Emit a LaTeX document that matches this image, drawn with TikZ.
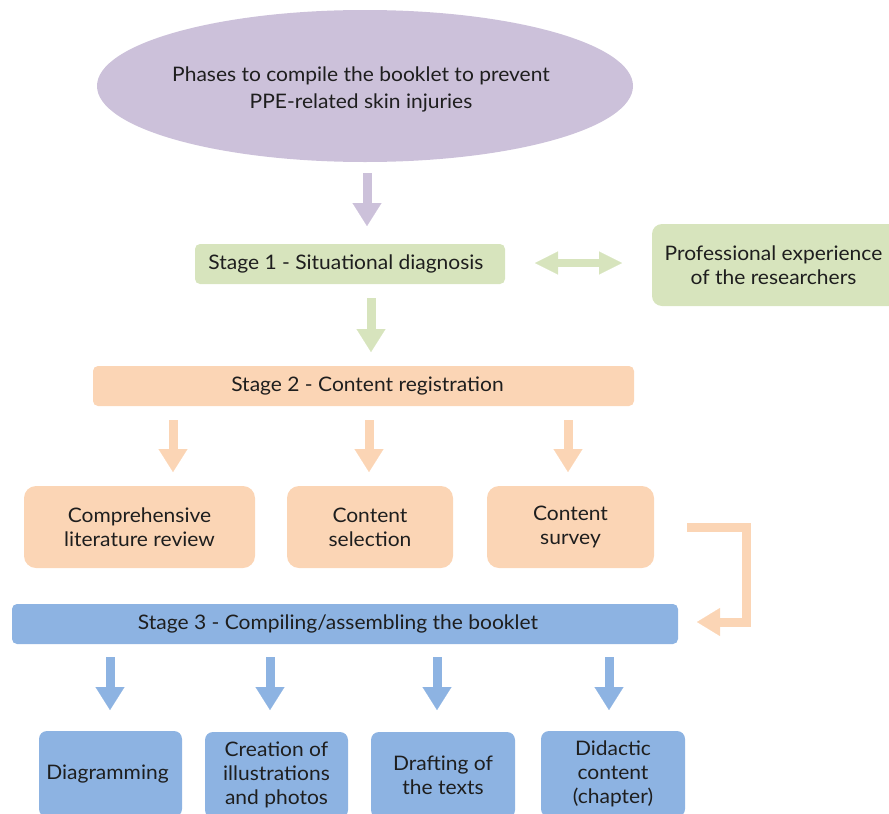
\documentclass[tikz,border=0pt]{standalone}
\usepackage{fontspec}
\setmainfont[FakeStretch=1.05]{Lato}
\usetikzlibrary{arrows.meta,shapes.geometric}
\definecolor{cpur}{HTML}{CCC1DA}
\definecolor{cgreen}{HTML}{D7E4BD}
\definecolor{corange}{HTML}{FBD5B5}
\definecolor{cblue}{HTML}{8DB3E2}
\definecolor{ink}{HTML}{1E1E1E}
\begin{document}
\begin{tikzpicture}[x=1pt,y=-1pt,
  txt/.style={font=\fontsize{20}{24}\selectfont, text=ink, align=center},
  box/.style={txt, inner sep=0pt, draw=none},
  flat/.style={box, rounded corners=5pt, minimum height=40pt},
  tall/.style={box, rounded corners=12pt, minimum height=82pt},
  arr/.style={line width=9pt, -{Triangle[line width=0.1pt, width=29pt, length=23pt]}},
  dbl/.style={line width=8pt, {Triangle[line width=0.1pt, width=23pt, length=23pt]}-{Triangle[line width=0.1pt, width=23pt, length=23pt]}}
]
\useasboundingbox (0,0) rectangle (889,814);
\clip (0,0) rectangle (889,814);

\node[ellipse, fill=cpur, minimum width=536pt, minimum height=152pt, inner sep=0pt] (ell) at (365,86) {};
\node[txt, font=\fontsize{20}{27}\selectfont, inner sep=0pt] (ellt) at (361,89) {Phases to compile the booklet to prevent\\PPE-related skin injuries};

\node[flat, fill=cgreen, minimum width=310pt] (s1) at (350,264) {};
\node[txt, inner sep=0pt] (s1t) at (346,264) {Stage 1 - Situational diagnosis};
\node[box, fill=cgreen, rounded corners=10pt, minimum width=250pt, minimum height=82pt] (prof) at (777,265) {};
\node[txt, inner sep=0pt] (proft) at (773.5,265) {Professional experience\\of the researchers};

\node[flat, fill=corange, minimum width=541pt] (s2) at (363.5,386) {};
\node[txt, inner sep=0pt] (s2t) at (367.5,386) {Stage 2 - Content registration};
\node[tall, fill=corange, minimum width=231pt] (c1) at (139.5,527) {Comprehensive\\literature review};
\node[tall, fill=corange, minimum width=166pt] (c2) at (370,527) {Content\\selection};
\node[tall, fill=corange, minimum width=167pt] (c3) at (570.5,527) {Content\\survey};

\node[flat, fill=cblue, minimum width=666pt] (s3) at (345,624) {};
\node[txt, inner sep=0pt] (s3t) at (338,624) {Stage 3 - Compiling/assembling the booklet};
\node[box, fill=cblue, rounded corners=8pt, minimum width=143pt, minimum height=86pt] (b1) at (110.5,774) {};
\node[txt, inner sep=0pt] (b1t) at (107.5,774) {Diagramming};
\node[box, fill=cblue, rounded corners=8pt, minimum width=143pt, minimum height=86pt] (b2) at (276.5,775) {Creation of\\illustrations\\and photos};
\node[box, fill=cblue, rounded corners=8pt, minimum width=144pt, minimum height=86pt] (b3) at (443,775) {Drafting of\\the texts};
\node[box, fill=cblue, rounded corners=8pt, minimum width=144pt, minimum height=86pt] (b4) at (613,774) {Didactic\\content\\(chapter)};

% arrow end points
\coordinate (p0) at (367,173); \coordinate (p1) at (367,226);
\coordinate (g0) at (371,298); \coordinate (g1) at (371,352);
\coordinate (h0) at (535,263); \coordinate (h1) at (622,263);
\coordinate (o1a) at (173,420); \coordinate (o1b) at (173,472);
\coordinate (o2a) at (369,420); \coordinate (o2b) at (369,472);
\coordinate (o3a) at (568,420); \coordinate (o3b) at (568,472);
\coordinate (k0) at (687,527.5); \coordinate (k1) at (746.5,527.5);
\coordinate (k2) at (746.5,622); \coordinate (k3) at (697,622);
\coordinate (u1a) at (110,657); \coordinate (u1b) at (110,710);
\coordinate (u2a) at (270,657); \coordinate (u2b) at (270,710);
\coordinate (u3a) at (437,657); \coordinate (u3b) at (437,710);
\coordinate (u4a) at (609,657); \coordinate (u4b) at (609,710);

\draw[arr, draw=cpur] (p0) -- (p1);
\draw[arr, draw=cgreen] (g0) -- (g1);
\draw[dbl, draw=cgreen] (h0) -- (h1);
\draw[arr, draw=corange] (o1a) -- (o1b);
\draw[arr, draw=corange] (o2a) -- (o2b);
\draw[arr, draw=corange] (o3a) -- (o3b);
\draw[line width=9pt, draw=corange, miter limit=10, -{Triangle[line width=0.1pt, width=28pt, length=23pt]}] (k0) -- (k1) -- (k2) -- (k3);
\draw[arr, draw=cblue] (u1a) -- (u1b);
\draw[arr, draw=cblue] (u2a) -- (u2b);
\draw[arr, draw=cblue] (u3a) -- (u3b);
\draw[arr, draw=cblue] (u4a) -- (u4b);
\end{tikzpicture}
\end{document}
